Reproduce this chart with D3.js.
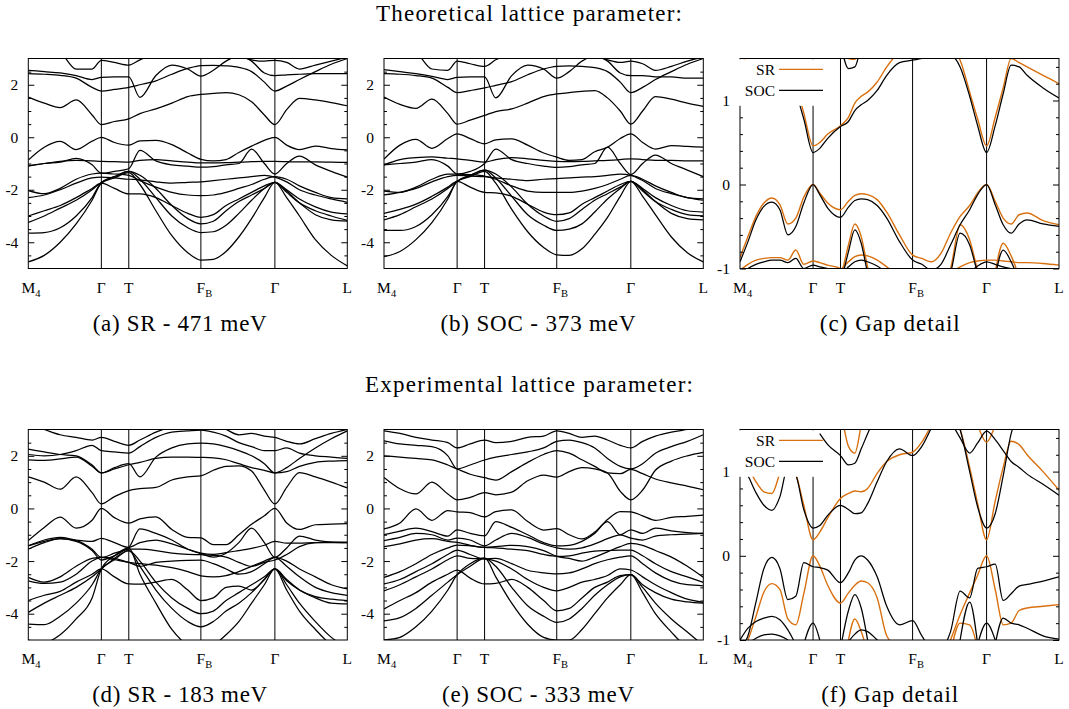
<!DOCTYPE html>
<html><head><meta charset="utf-8">
<script src="https://cdn.jsdelivr.net/npm/d3@7"></script>
<style>body{margin:0;background:#fff}</style>
</head><body><svg id="c" width="1069" height="709"></svg>
<script>
// ---------- k-paths ----------
const K  = [0,.05,.10,.15,.20,.229,.27,.315,.35,.40,.45,.50,.541,.58,.62,.66,.70,.74,.773,.81,.85,.90,.95,1];
const KF = [0,.025,.05,.075,.10,.125,.15,.175,.20,.229,.25,.275,.315,.34,.36,.38,.40,.43,.46,.50,.541,.57,.60,.63,.66,.69,.72,.745,.773,.80,.825,.85,.875,.90,.95,1];
const kSym = [0,.229,.315,.541,.773,1];
const kLabels = [["M","4"],["Γ",""],["T",""],["F","B"],["Γ",""],["L",""]];
const titles = ["Theoretical lattice parameter:","Experimental lattice parameter:"];
const captions = ["(a) SR - 471 meV","(b) SOC - 373 meV","(c) Gap detail","(d) SR - 183 meV","(e) SOC - 333 meV","(f) Gap detail"];
const legendNames = ["SR","SOC"];
const wideTicks = [-4,-2,0,2];
const wideMinor = [-4.5,-3.5,-3,-2.5,-1.5,-1,-0.5,0.5,1,1.5,2.5];
const gapTicks = [-1,0,1];
const gapMinor = [-0.8,-0.6,-0.4,-0.2,0.2,0.4,0.6,0.8,1.2,1.4];

// ---------- (a) SR theoretical ----------
const bandsA = [
 [1.53,1.3,1.13,1.42,0.85,0.48,0.6,0.7,0.9,1.08,1.3,1.55,1.63,1.67,1.7,1.62,1.35,0.85,0.48,1.05,1.48,1.42,1.32,1.2],
 [2.42,2.4,2.36,2.25,1.9,1.76,1.82,1.9,2.0,2.15,2.4,2.62,2.73,2.74,2.72,2.66,2.5,2.1,1.76,1.95,2.2,2.5,2.78,3.0],
 [2.55,2.5,2.45,2.35,2.2,2.28,2.3,2.3,1.52,2.35,2.75,2.6,2.33,2.55,2.9,3.1,2.9,2.45,2.35,2.38,2.4,2.42,2.42,2.42],
 [3.3,3.3,3.2,2.6,2.6,2.93,2.85,2.75,2.95,3.2,3.3,3.2,3.1,3.2,3.3,3.1,2.95,2.9,2.93,2.85,2.6,2.75,2.9,3.05],
 [-0.87,-0.38,-0.16,-0.47,-0.15,0,-0.2,-0.3,-0.14,-0.12,-0.28,-0.6,-0.84,-0.9,-0.85,-0.58,-0.34,-0.12,0,-0.3,-0.47,-0.34,-0.43,-0.48],
 [-1.08,-1.0,-0.92,-0.88,-0.9,-0.92,-0.93,-0.95,-0.88,-0.85,-0.9,-0.95,-0.98,-0.98,-0.97,-0.95,-0.93,-0.92,-0.92,-0.93,-0.94,-0.94,-0.95,-0.96],
 [-1.1,-1.0,-0.95,-0.8,-1.05,-1.37,-1.3,-1.2,-0.5,-0.9,-1.05,-1.1,-1.14,-1.12,-1.05,-1.0,-0.45,-1.0,-1.4,-1.0,-0.72,-1.05,-1.3,-1.52],
 [-2.03,-2.15,-1.95,-1.6,-1.4,-1.37,-1.4,-1.45,-1.65,-1.9,-2.1,-2.2,-2.22,-2.2,-2.1,-1.95,-1.8,-1.6,-1.5,-1.6,-1.85,-2.1,-2.3,-2.35],
 [-2.3,-2.2,-2.0,-1.75,-1.55,-1.52,-1.55,-1.6,-1.62,-1.7,-1.75,-1.72,-1.7,-1.65,-1.6,-1.55,-1.5,-1.45,-1.52,-1.7,-2.0,-2.2,-2.35,-2.48],
 [-3.0,-2.8,-2.6,-2.3,-1.95,-1.75,-1.95,-2.16,-2.16,-2.3,-2.6,-2.9,-3.05,-2.95,-2.6,-2.35,-2.1,-1.85,-1.72,-2.0,-2.35,-2.65,-2.85,-2.92],
 [-3.24,-3.0,-2.7,-2.4,-2.0,-1.72,-1.5,-1.3,-1.45,-1.95,-2.6,-3.1,-3.3,-3.2,-2.8,-2.45,-2.2,-1.95,-1.72,-2.1,-2.5,-2.8,-3.0,-3.17],
 [-3.65,-3.63,-3.45,-3.0,-2.3,-1.72,-1.5,-1.3,-1.6,-2.3,-3.0,-3.45,-3.63,-3.6,-3.35,-2.9,-2.4,-1.95,-1.72,-2.05,-2.5,-2.95,-3.15,-3.2],
 [-4.75,-4.5,-4.0,-3.3,-2.4,-1.75,-1.55,-1.35,-1.8,-2.8,-3.75,-4.4,-4.68,-4.65,-4.35,-3.8,-3.1,-2.3,-1.72,-2.3,-3.0,-3.9,-4.5,-4.9]
];
// ---------- (b) SOC theoretical ----------
const bandsB = [
 [1.53,1.25,1.1,1.45,0.9,0.5,0.65,0.83,0.98,1.08,1.3,1.55,1.65,1.7,1.75,1.78,1.5,1.0,0.5,1.0,1.55,1.45,1.3,1.18],
 [2.42,2.4,2.35,2.25,1.9,1.7,1.78,1.88,1.98,2.12,2.38,2.6,2.7,2.72,2.7,2.65,2.5,2.1,1.7,1.9,2.2,2.5,2.78,3.0],
 [2.58,2.5,2.42,2.32,2.2,2.28,2.3,2.3,1.5,2.35,2.75,2.6,2.25,2.5,2.9,3.1,2.9,2.45,2.35,2.35,2.3,2.3,2.25,2.25],
 [3.3,3.3,3.2,2.6,2.55,2.9,2.8,2.7,2.95,3.2,3.3,3.2,3.1,3.2,3.3,3.1,2.95,2.85,2.9,2.8,2.55,2.7,2.9,3.05],
 [-0.83,-0.3,-0.08,-0.42,-0.05,0.13,-0.05,-0.25,-0.1,-0.06,-0.3,-0.6,-0.76,-0.88,-0.85,-0.55,-0.38,-0.05,0.13,-0.2,-0.45,-0.32,-0.35,-0.38],
 [-1.05,-0.85,-0.78,-0.75,-0.8,-0.82,-0.88,-0.95,-0.85,-0.78,-0.82,-0.88,-0.92,-0.93,-0.92,-0.9,-0.88,-0.85,-0.82,-0.85,-0.88,-0.88,-0.9,-0.9],
 [-1.05,-1.0,-0.95,-0.85,-1.1,-1.4,-1.3,-1.0,-0.45,-0.85,-1.0,-1.1,-1.15,-1.12,-1.05,-1.0,-0.38,-1.0,-1.42,-1.0,-0.68,-1.0,-1.25,-1.5],
 [-2.05,-2.1,-1.9,-1.6,-1.4,-1.4,-1.42,-1.48,-1.6,-1.85,-2.05,-2.1,-2.1,-2.1,-2.05,-1.95,-1.8,-1.6,-1.45,-1.6,-1.85,-2.1,-2.3,-2.35],
 [-2.2,-2.1,-1.95,-1.7,-1.5,-1.45,-1.48,-1.5,-1.55,-1.6,-1.65,-1.6,-1.58,-1.55,-1.52,-1.5,-1.45,-1.4,-1.45,-1.65,-1.95,-2.15,-2.3,-2.4],
 [-2.9,-2.75,-2.55,-2.25,-1.9,-1.68,-1.9,-2.1,-2.12,-2.25,-2.55,-2.85,-2.95,-2.88,-2.55,-2.3,-2.05,-1.8,-1.68,-1.95,-2.3,-2.6,-2.8,-2.85],
 [-3.15,-2.95,-2.65,-2.35,-1.95,-1.68,-1.45,-1.25,-1.4,-1.9,-2.55,-3.0,-3.2,-3.1,-2.75,-2.4,-2.15,-1.9,-1.68,-2.05,-2.45,-2.75,-2.95,-3.0],
 [-3.55,-3.55,-3.4,-2.95,-2.25,-1.68,-1.45,-1.25,-1.55,-2.25,-2.95,-3.35,-3.55,-3.5,-3.3,-2.85,-2.35,-1.95,-1.68,-2.0,-2.45,-2.9,-3.1,-3.15],
 [-4.55,-4.35,-3.9,-3.25,-2.35,-1.68,-1.5,-1.3,-1.75,-2.75,-3.6,-4.2,-4.48,-4.5,-4.25,-3.7,-3.05,-2.25,-1.68,-2.25,-2.95,-3.8,-4.4,-4.75]
];
// ---------- (d) SR experimental ----------
const bandsD = [
 [1.2,1.0,0.73,1.2,0.6,0.17,0.45,0.68,0.75,0.8,1.08,1.2,1.24,1.45,1.6,1.62,1.42,0.7,0.17,0.8,1.36,1.2,1.0,0.78],
 [1.85,1.83,1.88,1.95,1.6,1.35,1.5,1.66,1.75,1.9,1.95,1.95,1.94,1.92,1.85,1.7,1.55,1.45,1.35,1.4,1.6,1.75,1.8,1.82],
 [2.25,2.15,2.05,2.0,1.65,1.35,1.55,1.7,1.2,1.95,2.3,2.45,2.48,2.45,2.35,2.2,2.0,1.7,1.35,1.55,1.9,2.3,2.65,2.95],
 [2.05,2.0,2.05,2.2,2.4,2.2,2.15,2.1,2.35,2.7,2.9,2.95,2.98,2.9,2.75,2.5,2.35,2.2,2.2,2.3,2.1,2.0,1.95,1.9],
 [3.2,3.0,2.8,2.7,2.6,2.7,2.55,2.4,2.6,2.9,3.1,3.2,3.3,3.2,3.0,2.8,2.85,2.75,2.7,2.55,2.45,2.65,2.85,3.0],
 [-1.22,-0.72,-0.33,-0.75,-0.45,0,-0.35,-0.56,-0.4,-0.32,-0.8,-1.1,-1.12,-1.38,-1.38,-1.0,-0.6,-0.28,0,-0.55,-0.8,-0.62,-0.6,-0.58],
 [-1.42,-1.2,-1.1,-1.2,-1.25,-1.14,-1.3,-1.48,-1.3,-1.2,-1.35,-1.55,-1.7,-1.75,-1.68,-1.6,-1.52,-1.4,-1.25,-1.32,-1.32,-1.3,-1.3,-1.3],
 [-1.55,-1.3,-1.15,-1.22,-1.55,-1.86,-1.7,-1.48,-0.78,-0.95,-1.2,-1.55,-1.72,-1.85,-1.7,-1.3,-0.75,-1.3,-1.86,-1.5,-1.05,-1.2,-1.28,-1.3],
 [-1.42,-1.25,-1.15,-1.25,-1.6,-1.96,-1.8,-1.55,-1.55,-1.6,-1.7,-1.75,-1.76,-1.78,-1.85,-2.05,-2.2,-2.05,-1.96,-1.75,-1.45,-1.3,-1.28,-1.28],
 [-2.62,-2.8,-2.6,-2.2,-1.9,-1.86,-1.9,-2.05,-2.1,-2.15,-2.25,-2.4,-2.56,-2.6,-2.55,-2.4,-2.2,-2.0,-1.86,-2.0,-2.3,-2.6,-2.9,-3.06],
 [-2.75,-2.85,-2.8,-2.5,-2.0,-1.86,-1.95,-2.05,-2.2,-2.05,-2.0,-1.97,-1.96,-2.1,-2.3,-2.5,-2.4,-2.1,-1.86,-2.2,-2.6,-3.0,-3.2,-3.3],
 [-3.5,-3.3,-3.15,-2.8,-2.5,-2.3,-2.6,-2.87,-2.88,-2.8,-2.7,-3.1,-3.5,-3.4,-3.0,-2.95,-3.1,-2.7,-2.3,-2.75,-3.1,-3.35,-3.45,-3.5],
 [-3.95,-3.6,-3.3,-3.0,-2.6,-2.3,-1.9,-1.6,-2.0,-2.8,-3.4,-3.8,-4.0,-3.9,-3.5,-3.2,-2.9,-2.6,-2.3,-2.7,-3.1,-3.4,-3.6,-3.63],
 [-4.4,-4.42,-4.1,-3.6,-2.9,-2.3,-1.95,-1.6,-2.2,-3.1,-3.8,-4.3,-4.5,-4.3,-3.9,-3.6,-3.2,-2.7,-2.3,-2.9,-3.6,-4.3,-4.9,-5.3],
 [-5.0,-5.1,-4.8,-4.2,-3.4,-2.3,-1.8,-1.5,-2.5,-3.6,-4.6,-5.2,-5.4,-5.2,-4.8,-4.3,-3.6,-2.9,-2.3,-3.1,-3.9,-4.6,-5.2,-5.6]
];
// ---------- (e) SOC experimental ----------
const bandsE = [
 [1.18,0.75,0.55,1.0,0.55,0.33,0.42,0.6,0.52,0.62,1.05,1.27,1.19,1.4,1.55,1.5,1.35,0.65,0.33,0.7,1.45,1.8,2.0,2.13],
 [2.0,1.95,1.9,1.85,1.65,1.5,1.3,1.17,1.08,1.4,1.75,2.05,2.2,2.1,1.85,1.6,1.35,1.32,1.48,1.32,1.12,0.97,0.85,0.71],
 [2.57,2.45,2.4,2.35,2.0,1.5,1.65,1.84,1.95,2.05,2.15,2.3,2.55,2.6,2.5,2.3,1.9,1.6,1.5,1.7,2.1,2.35,2.55,2.8],
 [2.95,2.85,2.7,2.6,2.5,2.3,2.45,2.6,2.5,2.55,2.7,2.75,2.95,2.85,2.7,2.75,2.6,2.4,2.3,2.55,2.75,2.9,3.0,3.1],
 [-0.78,-0.55,-0.02,-0.45,-0.08,-0.13,-0.16,-0.32,-0.12,-0.05,-0.5,-0.82,-0.77,-1.0,-1.16,-0.9,-0.42,-0.12,-0.13,-0.28,-0.45,-0.34,-0.3,-0.25],
 [-1.0,-0.86,-0.75,-0.88,-1.05,-0.81,-0.95,-1.04,-0.5,-0.72,-1.0,-1.3,-1.42,-1.4,-1.25,-0.95,-0.5,-1.0,-0.81,-0.95,-0.75,-0.85,-0.92,-0.95],
 [-1.22,-1.1,-0.95,-1.0,-1.2,-1.13,-1.2,-1.42,-1.2,-0.95,-1.1,-1.35,-1.5,-1.55,-1.5,-1.35,-1.15,-1.0,-1.13,-1.2,-1.05,-1.0,-0.98,-0.95],
 [-1.45,-1.35,-1.2,-1.15,-1.25,-1.29,-1.4,-1.48,-1.45,-1.4,-1.45,-1.6,-1.82,-1.9,-2.0,-1.85,-1.65,-1.45,-1.33,-1.4,-1.6,-1.85,-2.2,-2.62],
 [-2.62,-2.4,-2.1,-1.75,-1.5,-1.39,-1.42,-1.48,-1.5,-1.55,-1.6,-1.75,-1.82,-1.8,-1.7,-1.62,-1.6,-1.58,-1.58,-1.8,-2.1,-2.4,-2.6,-2.81],
 [-2.87,-2.7,-2.4,-2.1,-1.75,-1.58,-1.75,-1.92,-1.9,-2.1,-2.35,-2.45,-2.49,-2.45,-2.3,-2.1,-1.95,-1.85,-1.8,-2.1,-2.45,-2.75,-2.9,-2.94],
 [-3.13,-2.9,-2.6,-2.3,-1.95,-1.8,-1.9,-1.92,-2.0,-2.3,-2.7,-3.0,-3.13,-3.0,-2.8,-2.7,-2.55,-2.3,-2.34,-2.6,-2.9,-3.2,-3.45,-3.57],
 [-3.82,-3.5,-3.2,-2.8,-2.5,-2.34,-2.65,-2.87,-2.85,-2.7,-3.0,-3.5,-3.89,-3.8,-3.4,-3.0,-2.8,-2.55,-2.52,-2.9,-3.2,-3.45,-3.55,-3.6],
 [-4.27,-4.15,-3.8,-3.3,-2.8,-2.52,-2.2,-1.9,-2.2,-3.0,-3.7,-4.1,-4.33,-4.2,-3.8,-3.3,-2.9,-2.6,-2.52,-3.0,-3.6,-4.2,-4.7,-5.2],
 [-5.0,-4.9,-4.5,-3.9,-3.1,-2.52,-2.1,-1.88,-2.6,-3.6,-4.4,-4.9,-5.0,-5.0,-4.6,-4.0,-3.4,-2.9,-2.52,-3.2,-4.0,-4.7,-5.3,-5.6]
];
// ---------- gap details (fine grid KF; [startIndex, values]) ----------
const gapC_SR = [
 [0,[-0.87,-0.62,-0.38,-0.22,-0.16,-0.24,-0.47,-0.4,-0.15,0,-0.1,-0.22,-0.3,-0.2,-0.13,-0.11,-0.12,-0.18,-0.33,-0.6,-0.84,-0.88,-0.92,-0.82,-0.58,-0.38,-0.25,-0.1,0,-0.2,-0.4,-0.47,-0.36,-0.34,-0.43,-0.48]],
 [0,[1.53,1.45,1.3,1.18,1.13,1.25,1.42,1.2,0.85,0.46,0.5,0.6,0.7,0.8,0.97,1.05,1.1,1.22,1.4,1.58,1.65,1.68,1.7,1.7,1.62,1.48,1.1,0.78,0.46,0.8,1.15,1.5,1.45,1.4,1.3,1.2]],
 [11,[1.9,1.75,1.5,1.49,1.62,1.85]],
 [0,[-1.02,-0.95,-0.9,-0.88,-0.87,-0.87,-0.9,-0.78,-0.95,-0.91,-0.93,-0.96,-1.0,-1.1]],
 [12,[-1.15,-0.72,-0.47,-0.62,-0.98,-1.3]],
 [12,[-1.02,-0.92,-0.86,-0.84,-0.85,-0.9,-0.98,-1.1]],
 [23,[-1.2,-1.0,-0.48,-0.66,-1.02,-1.3]],
 [24,[-1.05,-0.98,-0.93,-0.91,-0.9,-0.9,-0.91,-0.92,-0.93,-0.93,-0.94,-0.96]],
 [29,[-1.05,-0.7,-0.85,-1.1]]
];
const gapC_SOC = [
 [0,[-0.92,-0.68,-0.42,-0.26,-0.21,-0.3,-0.6,-0.5,-0.22,0,-0.12,-0.28,-0.39,-0.27,-0.19,-0.17,-0.18,-0.25,-0.4,-0.68,-0.9,-0.95,-1.02,-0.95,-0.72,-0.48,-0.3,-0.12,0,-0.24,-0.48,-0.58,-0.47,-0.42,-0.47,-0.5]],
 [0,[1.45,1.35,1.22,1.1,1.05,1.18,1.35,1.1,0.78,0.38,0.43,0.55,0.69,0.75,0.88,0.95,1.0,1.12,1.3,1.45,1.48,1.5,1.53,1.58,1.55,1.4,1.05,0.7,0.38,0.7,1.08,1.42,1.4,1.3,1.15,1.03]],
 [12,[1.7,1.38,1.4,1.65,1.9]],
 [0,[-1.08,-1.0,-0.95,-0.92,-0.9,-0.9,-0.93,-0.88,-1.0,-0.96,-0.98,-1.0,-1.05]],
 [12,[-1.2,-0.8,-0.54,-0.7,-1.05,-1.35]],
 [12,[-1.08,-0.98,-0.92,-0.9,-0.92,-0.97,-1.05]],
 [23,[-1.25,-1.05,-0.58,-0.72,-1.05,-1.3]],
 [26,[-1.05,-0.97,-0.92,-0.95,-0.98,-1.0,-1.0,-1.0,-1.0,-1.0]],
 [29,[-1.1,-0.78,-0.92,-1.15]]
];
const gapF_SR = [
 [0,[-1.2,-1.0,-0.72,-0.43,-0.33,-0.4,-0.75,-0.82,-0.45,0,-0.12,-0.35,-0.56,-0.44,-0.35,-0.3,-0.32,-0.5,-0.95,-1.1,-1.12,-1.35,-1.42,-1.3,-1.0,-0.7,-0.44,-0.23,0,-0.4,-0.82,-0.8,-0.65,-0.62,-0.6,-0.58]],
 [0,[1.2,1.05,0.88,0.76,0.74,0.98,1.22,0.98,0.6,0.19,0.28,0.45,0.68,0.74,0.77,0.76,0.8,0.98,1.12,1.2,1.23,1.35,1.55,1.75,1.7,1.5,1.05,0.62,0.19,0.65,1.05,1.36,1.32,1.2,1.0,0.78]],
 [26,[1.8,1.55,1.35,1.55,1.8]],
 [11,[1.9,1.7,1.3,1.22,1.55,1.9]],
 [13,[-1.0,-0.75,-0.9,-1.15]],
 [24,[-1.15,-0.8,-0.82,-1.1]]
];
const gapF_SOC = [
 [0,[-1.1,-0.95,-0.55,-0.15,-0.02,-0.15,-0.52,-0.48,-0.08,-0.13,-0.14,-0.17,-0.32,-0.2,-0.05,0,-0.05,-0.25,-0.6,-0.82,-0.77,-0.95,-1.1,-1.1,-0.9,-0.42,-0.5,-0.15,-0.13,-0.1,-0.53,-0.45,-0.36,-0.34,-0.3,-0.25]],
 [0,[1.1,0.95,0.75,0.6,0.54,0.7,1.05,0.96,0.55,0.33,0.36,0.48,0.6,0.55,0.5,0.51,0.62,0.88,1.12,1.27,1.19,1.3,1.52,1.75,1.75,1.5,1.0,0.58,0.33,0.5,0.95,1.45,1.7,1.9,2.0,2.1]],
 [23,[1.8,1.6,1.4,1.22,1.34,1.48,1.38,1.25,1.12,1.05,0.97,0.85,0.72]],
 [10,[1.45,1.32,1.19,1.08,1.1,1.27,1.45,1.7]],
 [0,[-1.0,-0.86,-0.78,-0.74,-0.72,-0.76,-0.88,-1.05,-1.2]],
 [0,[-1.2,-1.05,-0.98,-0.94,-0.93,-0.95,-1.0,-1.1]],
 [8,[-1.05,-0.8,-1.0]],
 [12,[-1.1,-0.65,-0.46,-0.62,-1.0]],
 [13,[-1.02,-0.93,-0.88,-0.9,-1.0,-1.1]],
 [25,[-1.0,-0.55,-1.05]],
 [27,[-1.05,-0.8,-1.0]],
 [29,[-1.05,-0.74,-0.8,-0.82,-0.86,-0.95,-0.99]]
];

// ---------- drawing ----------
const svg = d3.select("#c");
const SERIF = "'Liberation Serif','Times New Roman',serif";
const ORANGE = "#d9700f";
let clipN = 0;

function expand(seg, n){ const a = new Array(n).fill(null); seg[1].forEach((v,i)=>{a[seg[0]+i]=v;}); return a; }

function drawPanel(cfg){
  const {x0,x1,y0,y1,dom,major,minor,kgrid,sets,legend,labelBase} = cfg;
  const x = d3.scaleLinear().domain([0,1]).range([x0,x1]);
  const y = d3.scaleLinear().domain(dom).range([y1,y0]);
  const id = "clip"+(clipN++);
  svg.append("clipPath").attr("id",id).append("rect")
     .attr("x",x0).attr("y",y0).attr("width",x1-x0).attr("height",y1-y0);
  const g = svg.append("g");
  g.selectAll(null).data(kSym.slice(1,-1)).join("line")
   .attr("x1",d=>x(d)).attr("x2",d=>x(d)).attr("y1",y0).attr("y2",y1)
   .attr("stroke","#000").attr("stroke-width",1);
  const line = d3.line().defined(d=>d[1]!==null).x(d=>x(d[0])).y(d=>y(d[1])).curve(d3.curveMonotoneX);
  const bg = g.append("g").attr("clip-path",`url(#${id})`);
  sets.forEach(s=>{
    bg.append("g").selectAll("path").data(s.bands).join("path")
      .attr("d",b=>line(kgrid.map((k,i)=>[k,b[i]])))
      .attr("fill","none").attr("stroke",s.color).attr("stroke-width",s.width)
      .attr("stroke-linejoin","round");
  });
  g.append("rect").attr("x",x0).attr("y",y0).attr("width",x1-x0).attr("height",y1-y0)
   .attr("fill","none").attr("stroke","#000").attr("stroke-width",1);
  const fmt = d=>String(d);
  const axL = g.append("g").attr("transform",`translate(${x0},0)`)
     .call(d3.axisLeft(y).tickValues(major).tickSize(-6).tickPadding(10).tickFormat(fmt));
  g.append("g").attr("transform",`translate(${x0},0)`)
     .call(d3.axisLeft(y).tickValues(minor).tickSize(-3).tickFormat(""));
  g.append("g").attr("transform",`translate(${x1},0)`)
     .call(d3.axisRight(y).tickValues(major).tickSize(-6).tickFormat(""));
  g.append("g").attr("transform",`translate(${x1},0)`)
     .call(d3.axisRight(y).tickValues(minor).tickSize(-3).tickFormat(""));
  g.selectAll(".domain").remove();
  g.selectAll(".tick line").attr("stroke","#000");
  axL.selectAll("text").attr("font-family",SERIF).attr("font-size",15.5).attr("fill","#000");
  if(legend){
    g.append("rect").attr("x",x0-1).attr("y",y0+0.8).attr("width",x(kSym[1])+1-(x0-1)).attr("height",46.5)
     .attr("fill","#fff");
    legend.forEach((L,i)=>{
      const ly = y0 + 10.8 + i*21;
      g.append("text").attr("x",x0+35).attr("y",ly+5.2).attr("text-anchor","end")
       .attr("font-family",SERIF).attr("font-size",15.5).text(L.name);
      g.append("line").attr("x1",x0+39).attr("x2",x0+83).attr("y1",ly).attr("y2",ly)
       .attr("stroke",L.color).attr("stroke-width",1.3);
    });
  }
  kSym.forEach((k,i)=>{
    const t = g.append("text").attr("x",x(k)).attr("y",labelBase).attr("text-anchor","middle")
      .attr("font-family",SERIF).attr("font-size",15.5).text(kLabels[i][0]);
    if(kLabels[i][1]){
      const w = t.node().getComputedTextLength();
      g.append("text").attr("x",x(k)+w/2).attr("y",labelBase+4).attr("font-family",SERIF)
       .attr("font-size",10.5).text(kLabels[i][1]);
    }
  });
}

const rows = [{y0:58.5,y1:268.5,lab:292.5},{y0:429.5,y1:640,lab:663.5}];
const cols = [[28.3,347.3],[384,703.3],[740,1059]];
const wideSets = [bandsA,bandsB,bandsD,bandsE];
const gapSets = [[gapC_SR,gapC_SOC],[gapF_SR,gapF_SOC]];

rows.forEach((r,ri)=>{
  [0,1].forEach(ci=>{
    drawPanel({x0:cols[ci][0],x1:cols[ci][1],y0:r.y0,y1:r.y1,dom:[-5,3],major:wideTicks,minor:wideMinor,
      kgrid:K,labelBase:r.lab,sets:[{bands:wideSets[ri*2+ci],color:"#000",width:1.25}]});
  });
  const [sr,soc] = gapSets[ri];
  drawPanel({x0:cols[2][0],x1:cols[2][1],y0:r.y0,y1:r.y1,dom:[-1,1.5],major:gapTicks,minor:gapMinor,
    kgrid:KF,labelBase:r.lab,
    sets:[{bands:sr.map(s=>expand(s,KF.length)),color:ORANGE,width:1.4},
          {bands:soc.map(s=>expand(s,KF.length)),color:"#000",width:1.25}],
    legend:[{name:legendNames[0],color:ORANGE},{name:legendNames[1],color:"#000"}]});
});

const titleY = [20.7,391.7];
const titleW = [306,328];
titles.forEach((t,i)=>{
  svg.append("text").attr("x",529).attr("y",titleY[i]).attr("text-anchor","middle")
    .attr("font-family",SERIF).attr("font-size",23).attr("textLength",titleW[i]).attr("lengthAdjust","spacing").text(t);
});
const capX = [179.7,538,889.7];
const capW = [174,195,140,175,192,137];
const capY = [330.5,701.5];
captions.forEach((c,i)=>{
  const r = Math.floor(i/3), ci = i%3;
  svg.append("text").attr("x",capX[ci]).attr("y",capY[r]).attr("text-anchor","middle")
    .attr("font-family",SERIF).attr("font-size",23).attr("textLength",capW[i]).attr("lengthAdjust","spacing").text(c);
});
</script>
</body></html>
